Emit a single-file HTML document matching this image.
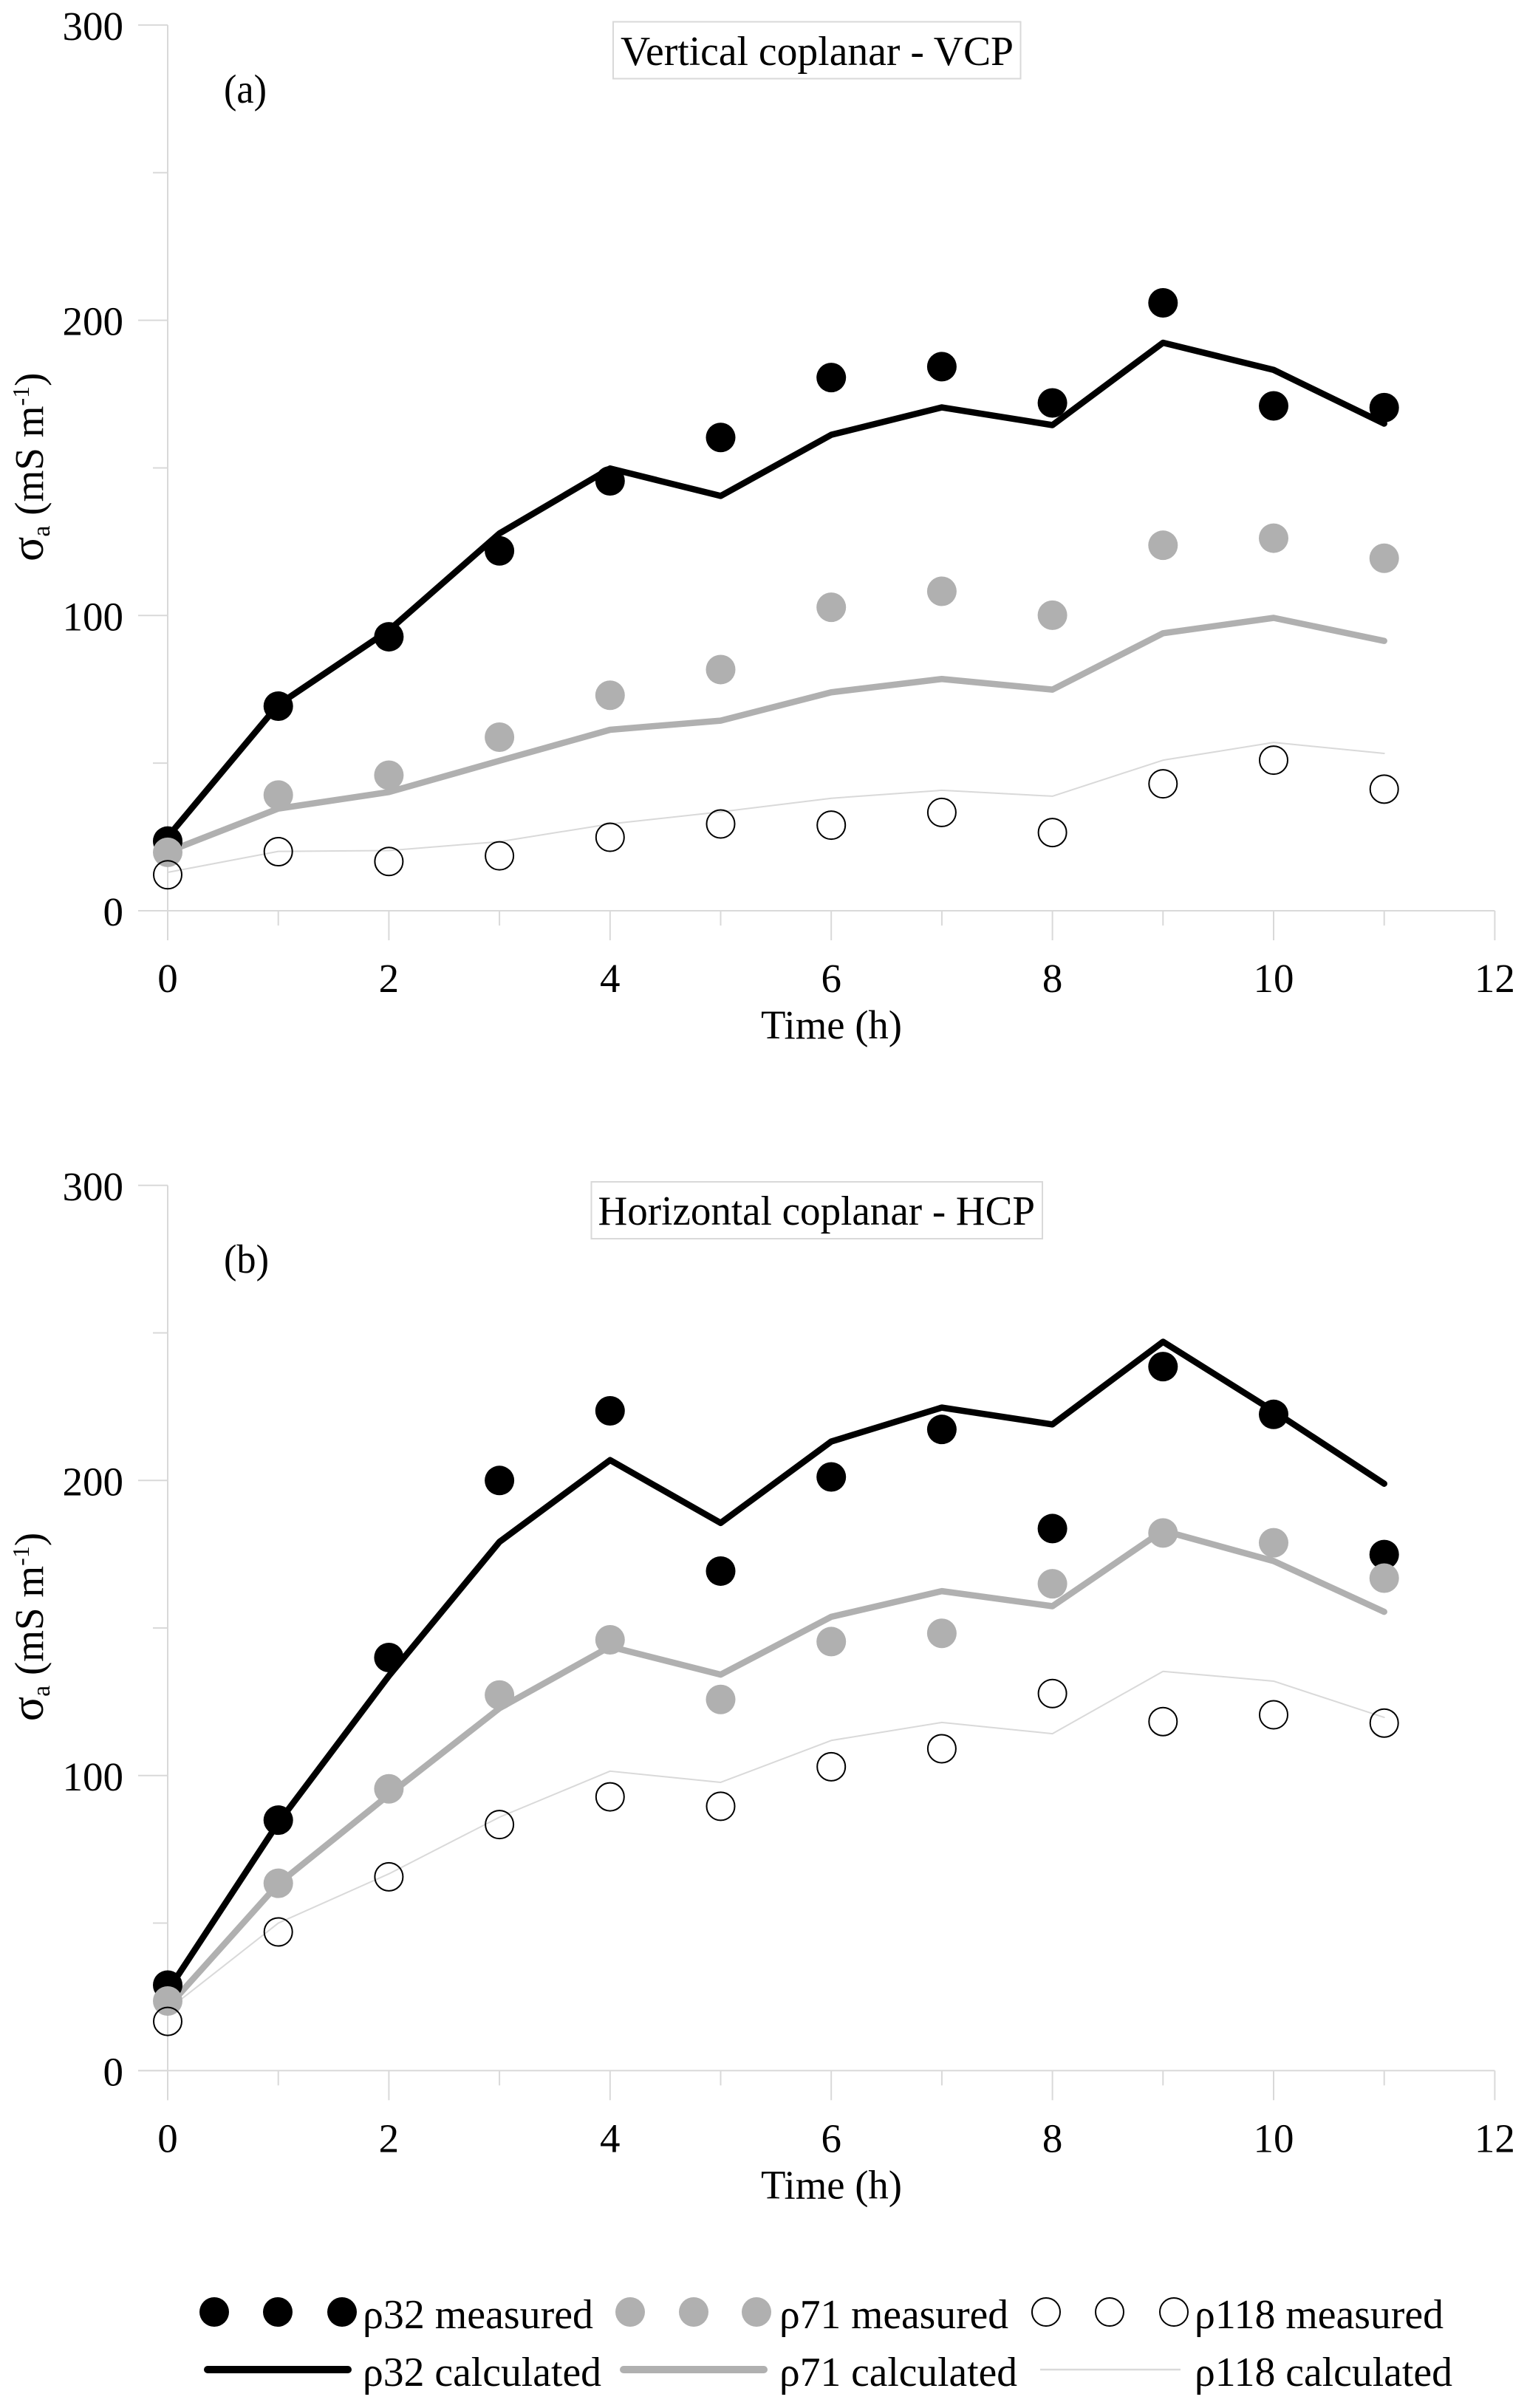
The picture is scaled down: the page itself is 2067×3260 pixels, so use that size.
<!DOCTYPE html>
<html lang="en">
<head>
<meta charset="utf-8">
<title>Apparent conductivity over time</title>
<style>
html,body{margin:0;padding:0;background:#fff;}
svg{display:block;}
text{font-family:"Liberation Serif","DejaVu Serif",serif;fill:#000;}
</style>
</head>
<body>
<svg id="figure" xmlns="http://www.w3.org/2000/svg" width="2067" height="3260" viewBox="0 0 2067 3260">
  <rect x="0" y="0" width="2067" height="3260" fill="#ffffff"/>

  <g id="panel-a"></g>
  <g id="panel-b"></g>

  <rect x="830" y="29.5" width="551.5" height="77" fill="#fff" stroke="#d9d9d9" stroke-width="2"/>
  <text x="840" y="88" font-size="56" textLength="532" lengthAdjust="spacingAndGlyphs">Vertical coplanar - VCP</text>
  <text x="303" y="139" font-size="55" textLength="58" lengthAdjust="spacingAndGlyphs">(a)</text>

  <rect x="800.5" y="1600" width="610.5" height="77" fill="#fff" stroke="#d9d9d9" stroke-width="2"/>
  <text x="809.5" y="1658" font-size="56" textLength="591.5" lengthAdjust="spacingAndGlyphs">Horizontal coplanar - HCP</text>
  <text x="303" y="1723" font-size="55" textLength="61" lengthAdjust="spacingAndGlyphs">(b)</text>

  <g id="legend">
    <g>
      <circle cx="290" cy="3130" r="20" fill="#000"/><circle cx="376" cy="3130" r="20" fill="#000"/><circle cx="463" cy="3130" r="20" fill="#000"/>
      <text x="491" y="3152" font-size="56" textLength="312" lengthAdjust="spacingAndGlyphs">ρ32 measured</text>
    </g>
    <g>
      <circle cx="853" cy="3130" r="20" fill="#b0b0b0"/><circle cx="939" cy="3130" r="20" fill="#b0b0b0"/><circle cx="1024" cy="3130" r="20" fill="#b0b0b0"/>
      <text x="1055" y="3152" font-size="56" textLength="310" lengthAdjust="spacingAndGlyphs">ρ71 measured</text>
    </g>
    <g>
      <circle cx="1416" cy="3130" r="19" fill="none" stroke="#000" stroke-width="2"/><circle cx="1502" cy="3130" r="19" fill="none" stroke="#000" stroke-width="2"/><circle cx="1589" cy="3130" r="19" fill="none" stroke="#000" stroke-width="2"/>
      <text x="1617" y="3152" font-size="56" textLength="337" lengthAdjust="spacingAndGlyphs">ρ118 measured</text>
    </g>
    <g>
      <line x1="281" y1="3208" x2="471" y2="3208" stroke="#000" stroke-width="10" stroke-linecap="round"/>
      <text x="491" y="3230" font-size="56" textLength="323" lengthAdjust="spacingAndGlyphs">ρ32 calculated</text>
    </g>
    <g>
      <line x1="844" y1="3208" x2="1034" y2="3208" stroke="#b0b0b0" stroke-width="10" stroke-linecap="round"/>
      <text x="1055" y="3230" font-size="56" textLength="322" lengthAdjust="spacingAndGlyphs">ρ71 calculated</text>
    </g>
    <g>
      <line x1="1408" y1="3208" x2="1598" y2="3208" stroke="#d9d9d9" stroke-width="2.5"/>
      <text x="1617" y="3230" font-size="56" textLength="349" lengthAdjust="spacingAndGlyphs">ρ118 calculated</text>
    </g>
  </g>
</svg>

<script>
/* Chart data */
const hours = [0, 1, 2, 3, 4, 5, 6, 7, 8, 9, 10, 11];
const xTickLabels = [0, 2, 4, 6, 8, 10, 12];
const xMinorTicks = [1, 3, 5, 7, 9, 11];
const yTickLabels = [0, 100, 200, 300];
const yMinorTicks = [50, 150, 250];

/* Panel (a) - vertical coplanar */
const vcpRho32Measured = [23.6, 69.3, 92.8, 121.9, 145.6, 160.3, 180.6, 184.3, 172.0, 205.9, 171.0, 170.4];
const vcpRho71Measured = [19.8, 39.2, 45.9, 58.8, 73.0, 81.7, 102.8, 108.2, 100.1, 123.8, 126.2, 119.4];
const vcpRho118Measured = [12.2, 20.0, 16.7, 18.6, 24.9, 29.4, 29.0, 33.3, 26.5, 43.0, 51.0, 41.2];
const vcpRho32Calculated = [25.0, 69.8, 95.0, 127.8, 149.8, 140.5, 161.2, 170.5, 164.5, 192.4, 183.2, 165.0];
const vcpRho71Calculated = [20.0, 34.6, 40.2, 50.8, 61.3, 64.4, 74.0, 78.5, 74.9, 94.0, 99.2, 91.4];
const vcpRho118Calculated = [13.0, 20.1, 20.4, 23.4, 29.4, 33.5, 38.1, 40.8, 38.8, 51.0, 57.0, 53.3];

/* Panel (b) - horizontal coplanar */
const hcpRho32Measured = [29.0, 84.9, 140.0, 200.0, 223.6, 169.3, 201.2, 217.3, 183.7, 238.6, 222.4, 174.9];
const hcpRho71Measured = [23.6, 63.5, 95.5, 127.3, 146.0, 125.8, 145.4, 148.2, 165.0, 182.2, 178.9, 166.9];
const hcpRho118Measured = [16.7, 47.0, 65.7, 83.4, 92.8, 89.6, 103.0, 109.1, 127.8, 118.3, 120.6, 117.8];
const hcpRho32Calculated = [27.0, 84.0, 133.8, 179.2, 206.9, 185.6, 213.2, 224.7, 219.0, 247.0, 223.5, 198.9];
const hcpRho71Calculated = [21.5, 63.3, 93.5, 122.8, 143.7, 134.2, 153.8, 162.5, 157.4, 183.0, 172.7, 155.5];
const hcpRho118Calculated = [20.6, 50.0, 66.7, 85.9, 101.5, 97.7, 111.9, 118.0, 114.2, 135.3, 132.0, 119.7];

const SVG_NS = 'http://www.w3.org/2000/svg';
const BLACK = '#000000', GREY = '#b0b0b0', PALE = '#d9d9d9';

function xScale(t) { return 227 + t * 149.7; }
function yScaleFor(zeroY, perUnit) { return function (v) { return zeroY - v * perUnit; }; }

function make(parent, tag, props) {
  const el = document.createElementNS(SVG_NS, tag);
  for (const k in props) el.setAttribute(k, props[k]);
  parent.appendChild(el);
  return el;
}

function drawAxes(g, y, prefix) {
  const zero = y(0), top = y(300), right = xScale(12), left = xScale(0);
  const yAxis = make(g, 'line', { x1: left, y1: top, x2: left, y2: zero + 40, stroke: PALE, 'stroke-width': 2 });
  
  
  const xAxis = make(g, 'line', { x1: left - 40, y1: zero, x2: right, y2: zero, stroke: PALE, 'stroke-width': 2 });
  
  

  yTickLabels.forEach(function (v) {
    const tick = make(g, 'line', { x1: left - 40, y1: y(v), x2: left, y2: y(v), stroke: PALE, 'stroke-width': 2 });
    
    
    const label = make(g, 'text', { x: 167, y: y(v) + 20, 'font-size': 55, 'text-anchor': 'end' });
    label.textContent = v;
    
    
  });
  yMinorTicks.forEach(function (v) {
    const tick = make(g, 'line', { x1: left - 20, y1: y(v), x2: left, y2: y(v), stroke: PALE, 'stroke-width': 2 });
    
    
  });
  xTickLabels.forEach(function (t) {
    const tick = make(g, 'line', { x1: xScale(t), y1: zero, x2: xScale(t), y2: zero + 40, stroke: PALE, 'stroke-width': 2 });
    
    
    const label = make(g, 'text', { x: xScale(t), y: zero + 110, 'font-size': 55, 'text-anchor': 'middle' });
    label.textContent = t;
    
    
  });
  xMinorTicks.forEach(function (t) {
    const tick = make(g, 'line', { x1: xScale(t), y1: zero, x2: xScale(t), y2: zero + 20, stroke: PALE, 'stroke-width': 2 });
    
    
  });

  const xTitle = make(g, 'text', { x: 1030, y: zero + 173, 'font-size': 55, textLength: 191, lengthAdjust: 'spacingAndGlyphs' });
  xTitle.textContent = 'Time (h)';
  
  

  const yTitle = make(g, 'text', { transform: 'translate(58,' + (zero - 473) + ') rotate(-90) scale(1,1)', 'font-size': 55 });
  
  
  make(yTitle, 'tspan', { 'font-size': 62 }).textContent = 'σ';
  make(yTitle, 'tspan', { 'font-size': 34, dy: 9 }).textContent = 'a';
  make(yTitle, 'tspan', { dy: -9 }).textContent = ' (mS m';
  make(yTitle, 'tspan', { 'font-size': 32, dy: -19 }).textContent = '-1';
  make(yTitle, 'tspan', { dy: 19 }).textContent = ')';
}

function drawLine(g, values, y, color, width, name) {
  const pts = values.map(function (v, i) { return xScale(hours[i]) + ',' + y(v); }).join(' ');
  const line = make(g, 'polyline', { points: pts, fill: 'none', stroke: color, 'stroke-width': width, 'stroke-linecap': 'round', 'stroke-linejoin': 'round' });
  
  
}

function drawDots(g, values, y, fill, name) {
  values.forEach(function (v, i) {
    const open = fill === 'none';
    const dot = make(g, 'circle', {
      cx: xScale(hours[i]), cy: y(v), r: open ? 19 : 20,
      fill: fill, stroke: open ? BLACK : 'none', 'stroke-width': open ? 2 : 0
    });
    
    
  });
}

function drawPanel(id, prefix, y, c32, c71, c118, m32, m71, m118) {
  const g = document.getElementById(id);
  drawAxes(g, y, prefix);
  drawLine(g, c32, y, BLACK, 8.5, prefix + '-rho32-calculated-line');
  drawLine(g, c71, y, GREY, 8.5, prefix + '-rho71-calculated-line');
  drawLine(g, c118, y, PALE, 2, prefix + '-rho118-calculated-line');
  drawDots(g, m32, y, BLACK, prefix + '-rho32-measured');
  drawDots(g, m71, y, GREY, prefix + '-rho71-measured');
  drawDots(g, m118, y, 'none', prefix + '-rho118-measured');
}

drawPanel('panel-a', 'vcp', yScaleFor(1233, 3.997),
  vcpRho32Calculated, vcpRho71Calculated, vcpRho118Calculated,
  vcpRho32Measured, vcpRho71Measured, vcpRho118Measured);
drawPanel('panel-b', 'hcp', yScaleFor(2803.3, 3.995),
  hcpRho32Calculated, hcpRho71Calculated, hcpRho118Calculated,
  hcpRho32Measured, hcpRho71Measured, hcpRho118Measured);
</script>
</body>
</html>
